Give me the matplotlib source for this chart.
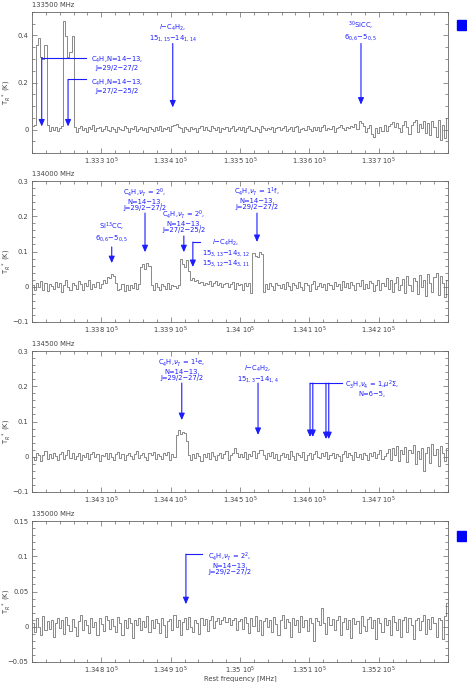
import numpy as np
import matplotlib
matplotlib.use('Agg')
import matplotlib.pyplot as plt
from matplotlib.ticker import MultipleLocator, FixedLocator, FuncFormatter
from matplotlib.patches import Rectangle

plt.rcParams['font.family'] = ['DejaVu Sans']
plt.rcParams['mathtext.fontset'] = 'dejavusans'

# ---------------- data ----------------
centers = [133500, 134000, 134500, 135000]   # MHz, panel centre frequencies
half_span = 300.0                           # MHz
chan_width = 3.0                            # MHz
xtick_offsets = [-200, -100, 0, 100, 200]   # MHz from centre (labelled ticks)

# antenna temperature per channel, in mK
spec1 = [15, 20, 360, 390, 310, 300, 360, 20, -5, 10,
         0, 12, -8, 5, 15, 460, 400, 310, 330, 400,
         10, -10, 5, 15, -3, 8, -12, 10, 2, 18,
         -5, 6, 12, -8, 3, 14, 0, -6, 9, 4,
         -10, 11, 2, -4, 13, 6, -9, 8, 1, 15,
         -7, 3, 10, -2, 7, -11, 12, 4, -5, 9,
         0, 14, -8, 6, 2, 11, -6, 16, 20, 22,
         12, 5, -9, 10, 3, -7, 12, 1, 8, -12,
         6, 14, -4, 9, 0, -8, 13, 5, -3, 10,
         -10, 7, 2, 12, -5, 8, 15, -7, 4, 11,
         -2, 9, -12, 6, 13, 0, -6, 10, 3, -9,
         14, 5, -4, 8, 1, 12, -11, 7, 10, -3,
         6, 16, -8, 2, 11, -5, 9, 13, -10, 4,
         8, -2, 15, 3, -7, 10, 0, 12, -6, 9,
         18, -4, 7, 1, 14, -9, 5, 11, 20, 8,
         -3, 12, 6, 16, 10, 22, 4, 35, 28, 15,
         -10, 5, 18, -20, -30, 8, -15, 10, -5, 20,
         -8, 14, 25, 30, 12, 28, 5, -12, 20, 35,
         10, -20, 18, 30, 40, -10, 25, 5, 38, -15,
         28, -25, 35, 10, -30, 42, -45, 20, -35, 50]

spec2 = [5, -10, 12, 0, 15, -8, 10, -12, 8, 3,
         -6, 14, -2, 10, -14, 6, 18, 0, -9, 12,
         4, -5, 16, 8, -10, 11, 2, 20, -6, 9,
         0, 14, -4, 7, 18, 10, 28, 25, 35, 30,
         12, -10, -5, 8, -12, 4, -8, 6, -3, 10,
         -6, 8, 55, 65, 50, 68, 60, 5, -8, 12,
         0, -10, 8, 3, -5, 10, -7, 6, 2, -4,
         5, 80, 65, 55, 75, 45, 20, 25, 15, 18,
         10, 14, 5, 12, 8, 15, 3, 10, 16, 6,
         12, -2, 8, 11, 0, 9, 14, -5, 10, 4,
         7, -8, 12, 2, 10, -18, 95, 88, 85, 100,
         92, -15, 8, -6, 10, 2, -10, 12, 4, -4,
         9, -7, 13, 1, -9, 11, 5, -3, 14, 0,
         -8, 10, 6, -12, 8, 15, -5, 3, 12, -2,
         7, -10, 11, 4, -6, 13, 2, 9, -8, 16,
         0, 10, -4, 14, 6, -9, 12, 3, 18, -6,
         8, -3, 15, 10, -12, 5, 20, -8, 12, 2,
         25, -5, 18, -15, 10, 28, -10, 6, 22, -18,
         30, 5, -12, 25, 15, -20, 32, 0, 20, -25,
         35, 10, -15, 28, 38, -22, 30, 12, -30, 20]

spec3 = [0, -8, 10, 4, -12, 6, 15, -5, 8, -3,
         12, 2, -10, 9, 14, -6, 5, 18, -4, 10,
         -7, 3, 12, -9, 6, 0, 11, -5, 8, 14,
         -2, 9, -11, 5, 2, 12, -6, 10, 0, -8,
         7, 13, -4, 9, -10, 4, 11, 1, -7, 8,
         15, -3, 6, 12, 0, -9, 10, 5, 14, -5,
         8, 2, -6, 11, 4, 13, -8, 7, 0, 62,
         75, 65, 70, 68, 45, 5, -10, 8, -4, 12,
         3, -12, 9, 0, 10, -6, 14, 2, -8, 6,
         11, -3, 8, 15, -9, 4, 12, 25, 10, -2,
         7, 0, 13, -5, 9, 3, 16, -4, 10, 20,
         18, 6, -7, 11, 2, 14, -3, 8, -10, 5,
         12, 0, 9, -6, 15, 3, -8, 10, 6, -2,
         13, -9, 4, 11, -5, 8, 16, 0, -4, 10,
         2, 14, -7, 6, 12, -3, 9, 1, -11, 7,
         15, -2, 10, 4, -8, 13, 0, 8, -5, 12,
         6, -10, 11, 3, 14, -4, 9, 18, -6, 2,
         12, 22, -8, 25, 5, 30, -12, 18, 8, 28,
         -15, 20, 10, 32, -20, 15, -5, 25, -40, 12,
         28, -18, 35, 5, 22, -25, 30, 10, -12, 25]

spec4 = [5, -8, 12, 0, -12, 15, -5, 8, -3, 10,
         -15, 6, 12, -2, 9, -10, 14, 3, -6, 11,
         0, -13, 8, 16, -4, 10, 2, -9, 13, -1,
         7, -11, 12, 4, -6, 15, 9, -3, 11, 1,
         -8, 14, 5, -12, 10, -2, 13, 6, -16, 9,
         3, 12, -5, 8, 0, 15, -7, 10, -2, 11,
         6, -9, 13, 2, -14, 8, 11, -4, 16, -1,
         9, -12, 7, 12, -3, 14, 0, -8, 10, 5,
         -10, 13, 3, 11, -6, 9, 15, -2, 8, 12,
         4, 10, 14, 7, 12, 2, 9, 13, -5, 8,
         11, -3, 14, 6, -9, 12, 1, 15, -6, 10,
         -12, 8, 13, 0, 10, -7, 14, 4, -11, 9,
         16, -2, 11, 7, -14, 12, 3, 9, -8, 15,
         0, 10, -6, 13, 5, -20, 12, 8, 2, 26,
         6, -10, 14, 3, 11, -5, 9, 15, -12, 7,
         12, -3, 10, -16, 13, 4, 8, -9, 15, 1,
         -6, 11, 14, -2, 9, -18, 12, 5, -8, 13,
         3, 10, -12, 15, 7, -4, 11, -15, 9, 14,
         -7, 12, 2, -17, 10, 13, -5, 8, 16, -10,
         11, -3, 14, 6, -14, 12, 9, -18, 15, 34]

spectra = [spec1, spec2, spec3, spec4]

# line identifications: (panel, rest frequencies [MHz], label)
line_panels = [0, 0, 0, 0, 1, 1, 1, 1, 1, 2, 2, 2, 3]
line_freqs = [[133214], [133252], [133403], [133674.5],
              [133815], [133863], [133919], [133932], [134024.5],
              [134416], [134526], [134601, 134605, 134624, 134628],
              [134922]]
line_labels = [
    "C$_4$H,N=14\u221213,\nJ=29/2\u221227/2",
    "C$_4$H,N=14\u221213,\nJ=27/2\u221225/2",
    "$l$\u2212C$_4$H$_2$,\n15$_{1,15}$\u221214$_{1,14}$",
    "$^{30}$SiCC,\n6$_{0,6}$\u22125$_{0,5}$",
    "Si$^{13}$CC,\n6$_{0,6}$\u22125$_{0,5}$",
    "C$_4$H,$\\nu_7$ = 2$^0$,\nN=14\u221213,\nJ=29/2\u221227/2",
    "C$_4$H,$\\nu_7$ = 2$^0$,\nN=14\u221213,\nJ=27/2\u221225/2",
    "$l$\u2212C$_4$H$_2$,\n15$_{3,13}$\u221214$_{3,12}$\n15$_{3,12}$\u221214$_{3,11}$",
    "C$_4$H,$\\nu_7$ = 1$^1$f,\nN=14\u221213,\nJ=29/2\u221227/2",
    "C$_4$H,$\\nu_7$ = 1$^1$e,\nN=14\u221213,\nJ=29/2\u221227/2",
    "$l$\u2212C$_4$H$_2$,\n15$_{1,3}$\u221214$_{1,4}$",
    "C$_3$H,$\\nu_4$ = 1,$\\mu^2\\Sigma$,\nN=6\u22125,",
    "C$_4$H,$\\nu_7$ = 2$^2$,\nN=14\u221213,\nJ=29/2\u221227/2",
]

# ---------------- layout / style ----------------
lab_pos = [(133285, 0.318), (133285, 0.222), (133403, 0.455), (133674.5, 0.466),
           (133815, 0.187), (133863, 0.284), (133919, 0.222), (133945, 0.140),
           (134024.5, 0.287), (134416, 0.284), (134526, 0.264), (134651, 0.222),
           (134954, 0.108)]
tail_y = [0.306, 0.213, 0.366, 0.366, 0.113, 0.209, 0.144, 0.127, 0.209,
          0.209, 0.209, 0.209, 0.103]
tip_y = [[0.013], [0.013], [0.094], [0.106], [0.067], [0.098], [0.098], [0.056],
         [0.127], [0.104], [0.062], [0.056, 0.056, 0.050, 0.050], [0.032]]
elbow_to = [133278, 133278, None, None, None, None, None, 133942, None,
            None, None, 134647, 134945]

blue = '#1c1cff'
gray = '#6a6a6a'
txtc = '#444444'
fs = 4.9
ylims = [(-0.1, 0.5), (-0.1, 0.3), (-0.1, 0.3), (-0.05, 0.15)]
ymaj = [0.2, 0.1, 0.1, 0.05]
ymin = [0.05, 0.02, 0.02, 0.01]
bottoms_px = [153, 322, 492, 662]
W, H = 467, 682
ax_left, ax_right, ax_h = 32, 448, 141

fig = plt.figure(figsize=(W / 100, H / 100), dpi=100)

def yfmt(v, pos):
    s = '%g' % round(v, 4)
    return s.replace('-', '\u2212')

def xfmt(v, pos):
    return '%g 10$^5$' % round(v / 1e5, 4)

axes = []
for p in range(4):
    ax = fig.add_axes([ax_left / W, 1 - bottoms_px[p] / H,
                       (ax_right - ax_left) / W, ax_h / H])
    axes.append(ax)
    c = centers[p]
    y = np.array(spectra[p]) / 1000.0
    f = c - half_span + chan_width * (np.arange(len(y)) + 0.5)
    ax.plot(f, y, drawstyle='steps-mid', color=gray, lw=0.55)
    ax.set_xlim(c - half_span, c + half_span)
    ax.set_ylim(*ylims[p])
    ax.xaxis.set_major_locator(FixedLocator([c + o for o in xtick_offsets]))
    ax.xaxis.set_minor_locator(MultipleLocator(20))
    ax.yaxis.set_major_locator(MultipleLocator(ymaj[p]))
    ax.yaxis.set_minor_locator(MultipleLocator(ymin[p]))
    ax.xaxis.set_major_formatter(FuncFormatter(xfmt))
    ax.yaxis.set_major_formatter(FuncFormatter(yfmt))
    ax.tick_params(which='both', direction='in', top=True, right=True,
                   labelsize=fs, labelcolor=txtc, color='#666666', width=0.5)
    ax.tick_params(which='major', length=3.5, pad=2.5)
    ax.tick_params(axis='x', which='major', pad=1.8)
    ax.tick_params(which='minor', length=2)
    for s in ax.spines.values():
        s.set_color('#666666')
        s.set_linewidth(0.6)
    ylab_y = bottoms_px[p] - 0.43 * ax_h
    fig.text(7 / W, 1 - ylab_y / H, 'T$_R$$^*$ (K)', fontsize=fs, color=txtc,
             rotation=90, ha='center', va='center')
    ax.text(0.0, 1 + 7 / ax_h, '%d MHz' % c, transform=ax.transAxes,
            fontsize=fs, color=txtc, ha='left', va='center')

fig.text(240 / W, 1 - 678.5 / H, 'Rest frequency [MHz]', fontsize=fs, color=txtc,
         ha='center', va='center')

aprops = dict(arrowstyle='-|>,head_length=0.5,head_width=0.22', color=blue,
              lw=0.8, shrinkA=0, shrinkB=0, mutation_scale=8)

for k in range(len(line_labels)):
    ax = axes[line_panels[k]]
    lx, ly = lab_pos[k]
    freqs = line_freqs[k]
    if elbow_to[k] is None:
        ax.text(lx, ly, line_labels[k], color=blue, fontsize=fs, ha='center',
                va='top', multialignment='center', linespacing=1.0)
    else:
        ax.text(lx, ly, line_labels[k], color=blue, fontsize=fs, ha='left',
                va='top', multialignment='center', linespacing=1.0)
        ax.plot([min(freqs), elbow_to[k]], [tail_y[k], tail_y[k]], color=blue, lw=0.8)
    for fq, ty in zip(freqs, tip_y[k]):
        ax.annotate('', xy=(fq, ty), xytext=(fq, tail_y[k]), arrowprops=aprops)

# blue squares on the right
for ytop in (20, 531):
    fig.patches.append(Rectangle((457 / W, 1 - (ytop + 10) / H), 9 / W, 10 / H,
                                 transform=fig.transFigure, color='#0000ff'))

fig.savefig('out.png', dpi=100)
